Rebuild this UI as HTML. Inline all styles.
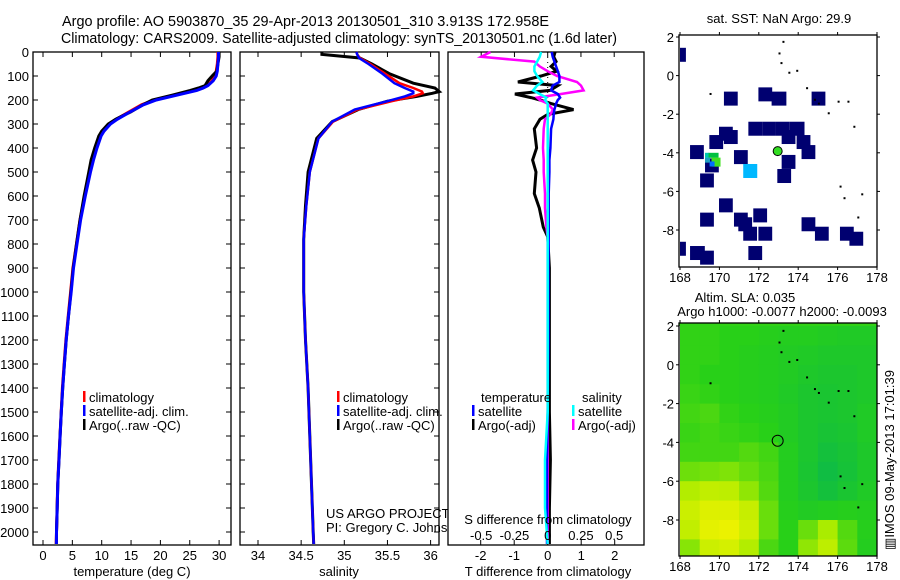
<!DOCTYPE html>
<html><head><meta charset="utf-8"><style>
html,body{margin:0;padding:0;background:#fff;width:900px;height:580px;overflow:hidden}
svg{display:block;font-family:"Liberation Sans",sans-serif}
text{font-size:13px;fill:#000}
</style></head><body>
<svg id="fig" width="900" height="580" viewBox="0 0 900 580" xmlns="http://www.w3.org/2000/svg">
<text x="62" y="26" textLength="487" lengthAdjust="spacingAndGlyphs" style="font-size:14.5px">Argo profile: AO 5903870_35 29-Apr-2013 20130501_310 3.913S 172.958E</text>
<text x="61" y="43" textLength="556" lengthAdjust="spacingAndGlyphs" style="font-size:14.5px">Climatology: CARS2009. Satellite-adjusted climatology: synTS_20130501.nc (1.6d later)</text>
<g id="g"></g>
</svg>
<script>
// ---- data ----
const tDepth=[0,20,50,80,100,120,140,150,160,180,200,220,250,280,300,330,350,400,450,500,600,700,800,900,1000,1100,1200,1300,1400,1500,1600,1700,1800,1900,2000,2050];
const tClim=[29.8,29.8,29.7,29.5,29.2,28.8,28.0,27.2,26.0,22.5,19.0,16.8,14.6,12.5,11.3,10.3,9.8,9.1,8.5,8.0,7.1,6.3,5.7,5.1,4.7,4.3,3.9,3.6,3.3,3.1,2.9,2.7,2.5,2.4,2.3,2.25];
const tSat=[29.9,29.9,29.8,29.7,29.5,29.0,28.1,27.3,26.2,22.8,19.3,17.1,14.8,12.7,11.5,10.4,9.9,9.2,8.6,8.1,7.2,6.4,5.8,5.2,4.8,4.35,3.95,3.65,3.35,3.12,2.92,2.72,2.52,2.42,2.3,2.28];
const tArgo=[30.0,30.0,29.8,29.6,28.8,28.1,27.6,26.5,25.1,22.0,18.6,17.0,14.9,12.4,11.1,10.0,9.5,8.8,8.2,7.8,7.0,6.3,5.7,5.15,4.75,4.35,3.95,3.65,3.35,3.12,2.92,2.72,2.52,2.42,2.3,2.28];
const sDepth=[0,10,25,50,90,130,150,165,172,185,205,240,290,360,500,640,780,1000,1200,1400,1600,1800,2000,2050];
const sClim=[35.14,35.15,35.18,35.30,35.47,35.64,35.80,35.90,35.91,35.80,35.55,35.15,34.87,34.70,34.60,34.56,34.53,34.53,34.55,34.58,34.60,34.62,34.64,34.645];
const sSat=[35.14,35.15,35.17,35.28,35.44,35.58,35.70,35.80,35.80,35.70,35.50,35.12,34.86,34.70,34.60,34.56,34.53,34.53,34.55,34.58,34.60,34.62,34.64,34.645];
const sArgo=[34.74,34.74,35.18,35.32,35.52,35.80,36.05,36.10,36.02,35.84,35.50,35.16,34.86,34.68,34.58,34.55,34.53,34.53,34.55,34.58,34.60,34.62,34.64,34.645];
const dDepth=[0,20,40,60,80,100,125,140,160,175,190,200,215,240,260,280,320,400,450,500,590,650,730,770,900,1200,1500,1700,1900,2050];
const dTArgo=[.22,.18,.25,.1,.27,-.2,-.89,.3,.07,-.98,-.5,-.23,.1,.77,0,-.23,-.4,-.33,-.45,-.35,-.4,-.25,-.13,0,.05,.05,.05,.08,.05,.05];
const dTSat=[.12,.15,.2,.25,.3,.35,.35,.15,.1,.3,.37,.3,.25,.2,.18,.17,.1,.08,.05,.05,.03,.03,.03,.03,.02,.02,0,-.02,-.02,-.02];
const dSArgo=[-.43,-.5,-.1,-.06,0,.07,.22,.25,.27,.1,-.08,-.06,0,.04,.02,-.02,-.03,-.035,-.03,-.03,-.02,-.02,-.01,0,0,0,0,0,0,0];
const dSSat=[-.05,-.06,-.08,-.1,-.1,-.08,-.04,-.08,-.11,-.06,-.01,-.02,0,0,0,0,0,0,0,0,0,0,0,0,0,0,0,-.02,-.02,0];
const depthTicks=[0,100,200,300,400,500,600,700,800,900,1000,1100,1200,1300,1400,1500,1600,1700,1800,1900,2000];
const tTicks=[0,5,10,15,20,25,30];
const sTicks=[34,34.5,35,35.5,36];
const dTTicks=[-2,-1,0,1,2];
const dSTicks=[-0.5,-0.25,0,0.25,0.5];
const dSTickLabels=["-0.5","-0.25","0","0.25","0.5"];
// SST map cells (top-left lon, lat)
const sstLon=[168.0,170.23,171.98,172.65,174.68,171.47,172.17,172.87,173.57,173.16,169.98,170.23,169.49,168.51,173.92,174.17,170.74,173.16,172.94,169.27,169.02,169.98,169.02,170.74,171.72,170.96,171.21,171.98,174.17,174.85,176.12,176.60,168.0,168.51,169.02,171.47];
const sstLat=[1.44,-0.83,-0.61,-0.83,-0.83,-2.39,-2.39,-2.39,-2.39,-2.82,-2.65,-2.82,-3.08,-3.60,-3.08,-3.60,-3.86,-4.11,-4.84,-4.29,-5.07,-6.36,-7.10,-7.10,-6.88,-7.34,-7.83,-7.83,-7.34,-7.83,-7.83,-8.09,-8.61,-8.83,-9.07,-8.83];
const sstW=[0.3,.7,.7,.75,.7,.7,.7,.7,.75,.7,.7,.7,.7,.7,.7,.7,.7,.7,.7,.7,.7,.7,.7,.7,.7,.7,.7,.7,.7,.7,.7,.7,0.3,.75,.7,.7];
// SLA grid, rows lat 2..-10, cols lon 168..177
const slaGrid=[
[.42,.42,.40,.40,.38,.36,.36,.34,.32,.32],
[.42,.42,.40,.38,.36,.34,.32,.30,.30,.30],
[.42,.40,.40,.38,.36,.34,.30,.28,.28,.30],
[.44,.42,.40,.38,.36,.32,.28,.26,.28,.30],
[.46,.48,.42,.40,.38,.34,.28,.26,.28,.32],
[.44,.46,.44,.42,.40,.34,.28,.24,.26,.32],
[.46,.46,.46,.50,.46,.36,.28,.20,.24,.30],
[.56,.58,.60,.54,.48,.36,.26,.16,.22,.30],
[.74,.80,.78,.64,.50,.36,.28,.20,.26,.32],
[.84,.92,.92,.82,.55,.38,.34,.36,.38,.36],
[.80,.95,.98,.86,.55,.40,.55,.70,.50,.38],
[.62,.84,.88,.74,.48,.40,.64,.78,.52,.36]];
const coastLon=[173.2,173.0,173.1,173.5,173.9,174.4,174.8,175.0,175.5,176.0,176.5,176.8,176.1,176.3,177.2,177.0,169.5];
const coastLat=[1.8,1.2,0.7,0.2,0.3,-0.6,-1.2,-1.4,-1.9,-1.3,-1.3,-2.6,-5.7,-6.3,-6.1,-7.3,-0.9];

// ---- helpers ----
const NS="http://www.w3.org/2000/svg";
const G=document.getElementById('g');
function mk(tag,at,parent){const e=document.createElementNS(NS,tag);for(const k in at)e.setAttribute(k,at[k]);(parent||G).appendChild(e);return e;}
function txt(x,y,s,anchor,parent,size){const e=mk('text',{x:x,y:y,'text-anchor':anchor||'start'},parent);if(size)e.style.fontSize=size+'px';e.textContent=s;return e;}
const Y=d=>52+0.24*d;
const xT=t=>43+5.87*t;
const xS=s=>258+86.3*(s-34);
const xDT=t=>547.7+33.5*t;
const xDS=s=>547.7+133*s;
function line(xs,ys,fx,color,w,name){
  const p=xs.map((v,i)=>fx(v).toFixed(1)+','+Y(ys[i]).toFixed(1)).join(' ');
  const e=mk('polyline',{points:p,fill:'none',stroke:color,'stroke-width':w,'stroke-linejoin':'miter'});
  
  
}
function frame(x0,x1,name){
  const r=mk('rect',{x:x0,y:52,width:x1-x0,height:493,fill:'#fff',stroke:'#000','stroke-width':1.3});
  
  
}
function xticks(vals,fx){vals.forEach(v=>{const x=fx(v);mk('line',{x1:x,x2:x,y1:52,y2:57,stroke:'#000'});mk('line',{x1:x,x2:x,y1:545,y2:540,stroke:'#000'});});}

// ---- panel 1 temperature ----
frame(33,231,'temperature-panel');
xticks(tTicks,xT);
depthTicks.forEach(d=>{const y=Y(d);mk('line',{x1:33,x2:38,y1:y,y2:y,stroke:'#000'});mk('line',{x1:231,x2:226,y1:y,y2:y,stroke:'#000'});
  const t=txt(29,y+5,String(d),'end');});
tTicks.forEach(v=>{const t=txt(xT(v),560,String(v),'middle');});
line(tClim,tDepth,xT,'#f00',3,'temperature-climatology-line');
line(tArgo,tDepth,xT,'#000',3,'temperature-argo-line');
line(tSat,tDepth,xT,'#00f',3,'temperature-satellite-line');
{const t=txt(132,576,'temperature (deg C)','middle');}
function legend(x,y,items,name){items.forEach((it,i)=>{mk('rect',{x:x,y:y+i*14-11,width:2.5,height:11,fill:it[0]});
  const t=txt(x+6,y+i*14,it[1]);});}
legend(83,402,[['#f00','climatology'],['#00f','satellite-adj. clim.'],['#000','Argo(..raw -QC)']],'temperature-legend');

// ---- panel 2 salinity ----
frame(240,439,'salinity-panel');
xticks(sTicks,xS);
depthTicks.forEach(d=>{const y=Y(d);mk('line',{x1:240,x2:245,y1:y,y2:y,stroke:'#000'});mk('line',{x1:439,x2:434,y1:y,y2:y,stroke:'#000'});});
sTicks.forEach(v=>{const t=txt(xS(v),560,String(v),'middle');});
line(sArgo,sDepth,xS,'#000',3,'salinity-argo-line');
line(sClim,sDepth,xS,'#f00',2.5,'salinity-climatology-line');
line(sSat,sDepth,xS,'#00f',2.5,'salinity-satellite-line');
{const t=txt(339,576,'salinity','middle');}
legend(337,402,[['#f00','climatology'],['#00f','satellite-adj. clim.'],['#000','Argo(..raw -QC)']],'salinity-legend');
{const t=txt(326,518,'US ARGO PROJECT');
 const t2=txt(326,532,'PI: Gregory C. Johnson');}

// ---- panel 3 differences ----
frame(448,644,'difference-panel');
dSTicks.forEach(v=>{const x=xDS(v);mk('line',{x1:x,x2:x,y1:52,y2:57,stroke:'#000'});});
dTTicks.forEach(v=>{const x=xDT(v);mk('line',{x1:x,x2:x,y1:545,y2:540,stroke:'#000'});});
mk('line',{x1:xDT(0),x2:xDT(0),y1:52,y2:545,stroke:'#000','stroke-width':1,'stroke-dasharray':'1,4'});
line(dTArgo,dDepth,xDT,'#000',3,'t-diff-argo-line');
line(dSArgo,dDepth,xDS,'#f0f',2.5,'s-diff-argo-line');
line(dTSat,dDepth,xDT,'#00f',2.5,'t-diff-satellite-line');
line(dSSat,dDepth,xDS,'#0ff',2.5,'s-diff-satellite-line');
dTTicks.forEach(v=>{const t=txt(xDT(v),560,String(v),'middle');});
dSTicks.forEach((v,i)=>{const t=txt(xDS(v),540,dSTickLabels[i],'middle');});
{const t=txt(548,524,'S difference from climatology','middle');
 const t2=txt(548,576,'T difference from climatology','middle');}
{const a=txt(481,402,'temperature');
 const b=txt(582,402,'salinity');}
legend(472,416,[['#00f','satellite'],['#000','Argo(-adj)']],'diff-legend-temperature');
legend(572,416,[['#0ff','satellite'],['#f0f','Argo(-adj)']],'diff-legend-salinity');

// ---- maps ----
const mx=lon=>680+19.7*(lon-168);
function mapAxes(top,bottom,latToY,name){
  const r=mk('rect',{x:679,y:top,width:198,height:bottom-top,fill:'none',stroke:'#000','stroke-width':1.3});
  
  
  [168,170,172,174,176,178].forEach(l=>{const x=mx(l);mk('line',{x1:x,x2:x,y1:top,y2:top-3,stroke:'#000'});mk('line',{x1:x,x2:x,y1:bottom,y2:bottom+3,stroke:'#000'});
    const t=txt(x,bottom+15,String(l),'middle');});
  [2,0,-2,-4,-6,-8].forEach(l=>{const y=latToY(l);mk('line',{x1:679,x2:676,y1:y,y2:y,stroke:'#000'});mk('line',{x1:877,x2:880,y1:y,y2:y,stroke:'#000'});
    const t=txt(674,y+5,String(l),'end');});
}
// SST map
const my1=lat=>37+19.3*(2-lat);
mk('rect',{x:679,y:35,width:198,height:232,fill:'#fff'});
sstLon.forEach((lon,i)=>{const e=mk('rect',{x:mx(lon),y:my1(sstLat[i]),width:19.7*sstW[i],height:14,fill:'#000070'});
  
  });
mk('rect',{x:mx(171.21),y:my1(-4.58),width:14,height:14,fill:'#00b8ff'});
mk('rect',{x:mx(169.27),y:my1(-4.0),width:4,height:5,fill:'#00c8b0'});
mk('rect',{x:mx(169.45),y:my1(-4.0),width:10,height:5,fill:'#00c040'});
mk('rect',{x:mx(169.6),y:my1(-4.25),width:9,height:9,fill:'#40e020'});
mk('rect',{x:mx(169.27),y:my1(-4.25),width:5,height:5,fill:'#20a0c0'});
mk('rect',{x:mx(169.5),y:my1(-4.45),width:5,height:5,fill:'#0070ff'});
coastLon.forEach((lon,i)=>{mk('rect',{x:mx(lon),y:my1(coastLat[i]),width:2,height:2,fill:'#000'});});
{const c=mk('circle',{cx:mx(172.958),cy:my1(-3.913),r:4.5,fill:'#33dd22',stroke:'#000','stroke-width':1});}
mapAxes(35,267,my1,'sst-map');
{const t=txt(779,23,'sat. SST: NaN Argo: 29.9','middle');}
// SLA map
const my2=lat=>326+19.4*(2-lat);
function slaColor(v){const stops=[[0,[0,176,96]],[0.4,[40,208,24]],[0.7,[170,236,0]],[1,[240,242,0]]];
  for(let i=1;i<stops.length;i++){if(v<=stops[i][0]){const a=stops[i-1],b=stops[i],f=(v-a[0])/(b[0]-a[0]);return 'rgb('+a[1].map((c,k)=>Math.round(c+(b[1][k]-c)*f)).join(',')+')';}}return 'rgb(240,242,0)';}
const defs=mk('defs',{});const cp=mk('clipPath',{id:'slaclip'},defs);mk('rect',{x:679,y:323,width:198,height:233},cp);
const clipG=mk('g',{'clip-path':'url(#slaclip)'});
slaGrid.forEach((row,r)=>row.forEach((v,c)=>{const e=mk('rect',{x:mx(168+c),y:my2(2-r),width:20.2,height:19.9,fill:slaColor(v)},clipG);
  
  }));
mk('rect',{x:679,y:323,width:198,height:3,fill:slaColor(0.42)});
coastLon.forEach((lon,i)=>{mk('rect',{x:mx(lon),y:my2(coastLat[i]),width:2,height:2,fill:'#000'});});
{const c=mk('circle',{cx:mx(172.958),cy:my2(-3.913),r:5.5,fill:'none',stroke:'#000','stroke-width':1});}
mapAxes(323,556,my2,'sla-map');
{const t=txt(745,302,'Altim. SLA: 0.035','middle');
 const t2=txt(782,316,'Argo h1000: -0.0077 h2000: -0.0093','middle');}
{const t=txt(0,0,'\u25A5IMOS 09-May-2013 17:01:39','middle');t.setAttribute('transform','translate(894,460) rotate(-90)');}
</script>
</body></html>
